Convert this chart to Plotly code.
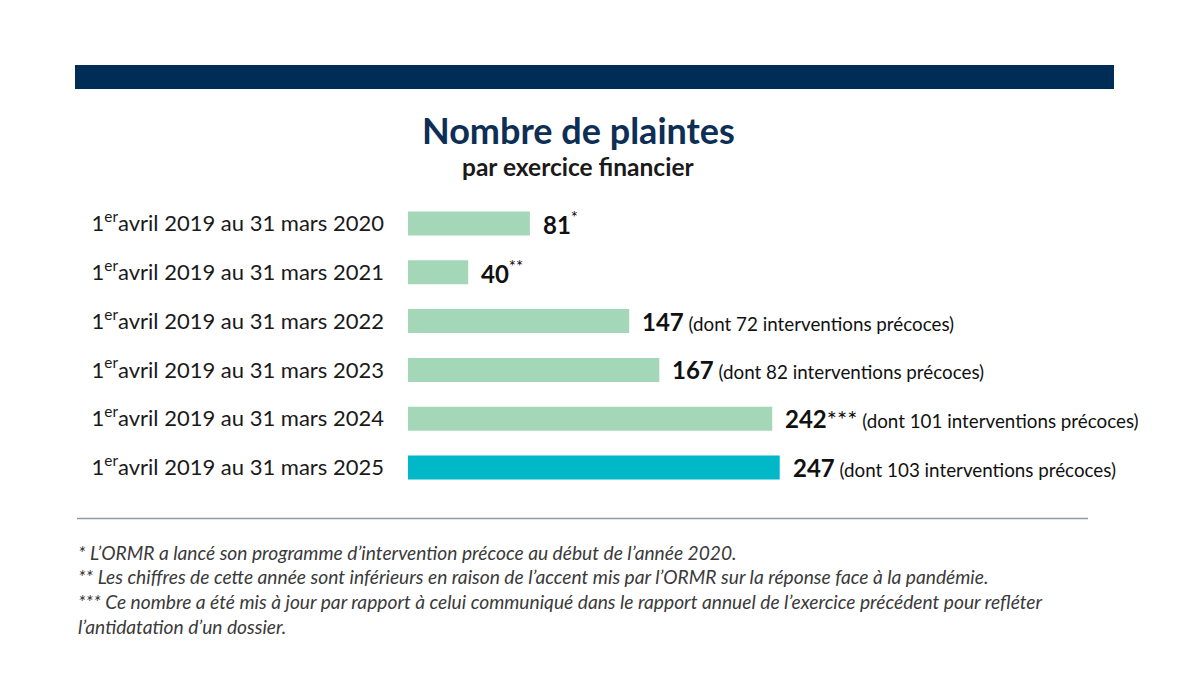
import plotly.graph_objects as go

periods = ["2020", "2021", "2022", "2023", "2024", "2025"]
values = [81, 40, 147, 167, 242, 247]
markers = ["<sup>*</sup>", "<sup>**</sup>", "", "", "***", ""]
early = [None, None, 72, 82, 101, 103]
bar_colors = ["#A3D7B8", "#A3D7B8", "#A3D7B8", "#A3D7B8", "#A3D7B8", "#00B8C8"]

title = "Nombre de plaintes"
subtitle = "par exercice financier"
footnotes = [
    "* L\u2019ORMR a lancé son programme d\u2019intervention précoce au début de l\u2019année 2020.",
    "** Les chiffres de cette année sont inférieurs en raison de l\u2019accent mis par l\u2019ORMR sur la réponse face à la pandémie.",
    "*** Ce nombre a été mis à jour par rapport à celui communiqué dans le rapport annuel de l\u2019exercice précédent pour refléter",
    "l\u2019antidatation d\u2019un dossier.",
]

labels = [f"1<sup>er</sup>avril 2019 au 31 mars {p}" for p in periods]

W, H = 1190, 698
OFF = 8  # page body offset
L, R = 400, 8
T = 198.5 - OFF
B = H - (492.5 - OFF)
PW, PH = W - L - R, H - T - B


def px(x):
    return (x - OFF - L) / PW


def py(y):
    return (H - B - (y - OFF)) / PH


FONT = "Lato"
fig = go.Figure()
fig.add_trace(go.Bar(
    x=values, y=labels, orientation="h",
    marker=dict(color=bar_colors, line=dict(width=0)),
    hoverinfo="skip",
))

annotations = []
for lab, v, m, e in zip(labels, values, markers, early):
    txt = f"<b>{v}</b>{m}"
    if e is not None:
        txt += f"<span style='font-size:18.8px'> (dont {e} interventions précoces)</span>"
    annotations.append(dict(
        x=v, y=lab, xref="x", yref="y", text=txt, showarrow=False,
        xanchor="left", yanchor="middle", xshift=11,
        font=dict(family=FONT, size=24, color="#111111"),
    ))

annotations.append(dict(
    x=px(578), y=py(129), xref="paper", yref="paper", text=f"<b>{title}</b>",
    showarrow=False, xanchor="center", yanchor="middle",
    font=dict(family=FONT, size=36, color="#0D2E55"),
))
annotations.append(dict(
    x=px(578), y=py(166), xref="paper", yref="paper", text=f"<b>{subtitle}</b>",
    showarrow=False, xanchor="center", yanchor="middle",
    font=dict(family=FONT, size=24.5, color="#1a1a1a"),
))
for i, fn in enumerate(footnotes):
    annotations.append(dict(
        x=px(76), y=py(553 + 24.7 * i), xref="paper", yref="paper", text=f"<i>{fn}</i>",
        showarrow=False, xanchor="left", yanchor="middle",
        font=dict(family=FONT, size=19.2, color="#3a3a3a"),
    ))

shapes = [
    dict(type="rect", xref="paper", yref="paper", x0=px(75), x1=px(1114),
         y0=py(64), y1=py(88), fillcolor="#002D55", line=dict(width=0), layer="below"),
    dict(type="line", xref="paper", yref="paper", x0=px(77), x1=px(1088),
         y0=py(519), y1=py(519), line=dict(color="#8D9CAB", width=1.5)),
]

fig.update_layout(
    width=W, height=H, autosize=False,
    margin=dict(l=L, r=R, t=T, b=B, pad=0),
    paper_bgcolor="white", plot_bgcolor="white",
    showlegend=False, bargap=0.51,
    xaxis=dict(range=[0, PW / 1.505], visible=False, fixedrange=True),
    yaxis=dict(
        autorange=False, range=[5.5, -0.5], showgrid=False, zeroline=False,
        showline=False, ticks="", ticklabelstandoff=23,
        tickfont=dict(family=FONT, size=22, color="#1a1a1a"),
    ),
    annotations=annotations, shapes=shapes,
)

fig.write_html("out.html")
